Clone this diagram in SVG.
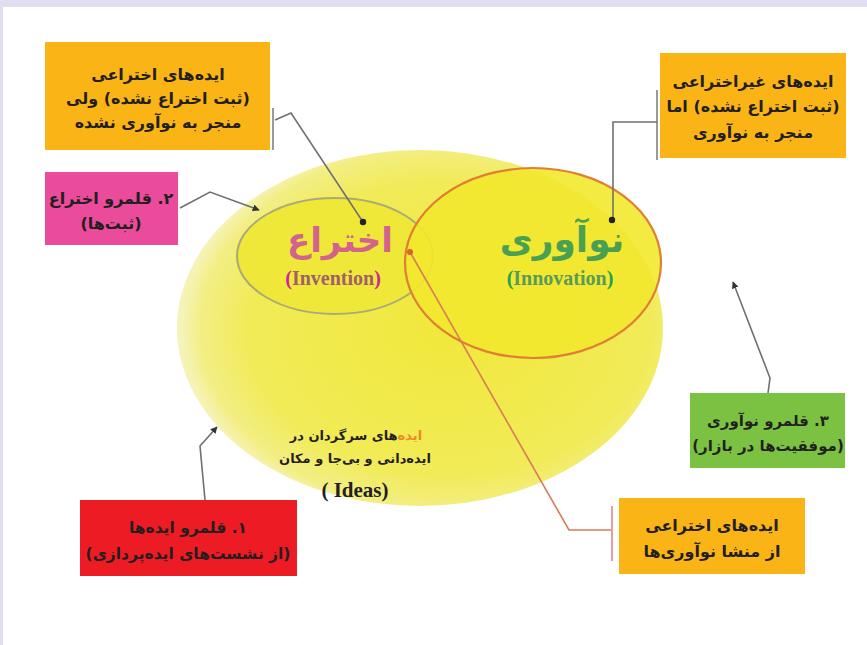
<svg xmlns="http://www.w3.org/2000/svg" width="867" height="645" viewBox="0 0 867 645">
<defs>
<radialGradient id="gBig" cx="0.56" cy="0.5" r="0.55">
<stop offset="0" stop-color="#f1e83a"/>
<stop offset="0.75" stop-color="#f1eb58"/>
<stop offset="0.93" stop-color="#f3ee84"/>
<stop offset="1" stop-color="#f6f3b8"/>
</radialGradient>
<marker id="arr" viewBox="0 0 10 10" refX="9" refY="5" markerWidth="7" markerHeight="7" orient="auto" markerUnits="userSpaceOnUse">
<path d="M0,0 L10,5 L0,10 z" fill="#333"/>
</marker>
<style>
.fa{font-family:"DejaVu Sans",sans-serif;font-weight:bold;fill:#231f20;text-anchor:middle;direction:rtl;}
.box{font-size:16px;}
.con{fill:none;stroke:#707070;stroke-width:1.6;}
.tick{fill:none;stroke:#9a9a9a;stroke-width:2;}
.en{font-family:"Liberation Serif",serif;font-weight:bold;text-anchor:middle;}
</style>
</defs>
<rect width="867" height="645" fill="#ffffff"/>
<rect x="0" y="0" width="867" height="7" fill="#e0def0"/>
<rect x="0" y="0" width="3" height="645" fill="#e0def0"/>

<g id="ideas-domain">
<ellipse cx="420" cy="328" rx="243" ry="178" fill="url(#gBig)"/>
<text class="fa" x="356" y="440" font-size="13"><tspan fill="#f08a24">ایده</tspan>‌های سرگردان در</text>
<text class="fa" x="355" y="463" font-size="13">ایده‌دانی و بی‌جا و مکان</text>
<text class="en" x="355" y="497" font-size="21" fill="#231f20">( Ideas)</text>
</g>

<g id="invention">
<ellipse cx="335" cy="256" rx="98" ry="58" fill="#efe838" stroke="#a9aa78" stroke-width="2"/>
<text class="fa" x="340" y="252" font-size="34" style="fill:#d4628e">اختراع</text>
<text class="en" x="333" y="285" font-size="20" fill="#a0606a"><tspan fill="#d020a0">(</tspan>Invention<tspan fill="#d020a0">)</tspan></text>
</g>

<g id="innovation">
<ellipse cx="533" cy="263" rx="128" ry="95" fill="#f2e82e" fill-opacity="0.9" stroke="#e07e34" stroke-width="2.2"/>
<text class="fa" x="562" y="252" font-size="36" style="fill:#4aa052">نوآوری</text>
<text class="en" x="560" y="285" font-size="20" fill="#5a9a5a"><tspan fill="#20a050">(</tspan>Innovation<tspan fill="#20a050">)</tspan></text>
</g>

<g id="connectors">
<path class="tick" d="M273,108 V150"/>
<path class="con" d="M275,120 L291,113 L363,222"/>
<circle cx="363" cy="222" r="3.2" fill="#222"/>
<path class="con" d="M180,208 L210,192 L259,210" marker-end="url(#arr)"/>
<path class="tick" d="M657,90 V160"/>
<path class="con" d="M657,122 H613 V220"/>
<circle cx="612" cy="220" r="3.2" fill="#222"/>
<path class="con" d="M768,393 L770,378 L733,282" marker-end="url(#arr)"/>
<path class="con" d="M205,500 L200,446 L217,427" marker-end="url(#arr)"/>
<path fill="none" stroke="#d97a5a" stroke-width="1.6" d="M410,252 L569,530 H612"/>
<path fill="none" stroke="#e2a0a0" stroke-width="2" d="M612,506 V561"/>
<circle cx="410" cy="252" r="3" fill="#e0602a"/>
</g>

<g id="box-invention-not-innovation">
<rect x="45" y="42" width="225" height="108" fill="#fbb416"/>
<text class="fa box" x="158" y="80">ایده‌های اختراعی</text>
<text class="fa box" x="158" y="104">(ثبت اختراع نشده) ولی</text>
<text class="fa box" x="158" y="128">منجر به نوآوری نشده</text>
</g>

<g id="box-innovation-not-invention">
<rect x="660" y="53" width="186" height="105" fill="#fbb416"/>
<text class="fa box" x="753" y="87">ایده‌های غیراختراعی</text>
<text class="fa box" x="753" y="112">(ثبت اختراع نشده) اما</text>
<text class="fa box" x="753" y="138">منجر به نوآوری</text>
</g>

<g id="box-invention-domain">
<rect x="45" y="172" width="133" height="73" fill="#ea4b9b"/>
<text class="fa box" x="111" y="204">۲. قلمرو اختراع</text>
<text class="fa box" x="111" y="229">(ثبت‌ها)</text>
</g>

<g id="box-innovation-domain">
<rect x="690" y="393" width="155" height="75" fill="#7cc242"/>
<text class="fa" x="768" y="426" font-size="15">۳. قلمرو نوآوری</text>
<text class="fa" x="768" y="451" font-size="15">(موفقیت‌ها در بازار)</text>
</g>

<g id="box-ideas-domain">
<rect x="80" y="500" width="217" height="76" fill="#ed1c24"/>
<text class="fa" x="188" y="533" font-size="15.5">۱. قلمرو ایده‌ها</text>
<text class="fa" x="188" y="559" font-size="15.5">(از نشست‌های ایده‌پردازی)</text>
</g>

<g id="box-inventive-origin">
<rect x="619" y="498" width="186" height="76" fill="#fbb416"/>
<text class="fa box" x="712" y="531">ایده‌های اختراعی</text>
<text class="fa box" x="712" y="557">از منشا نوآوری‌ها</text>
</g>
</svg>
